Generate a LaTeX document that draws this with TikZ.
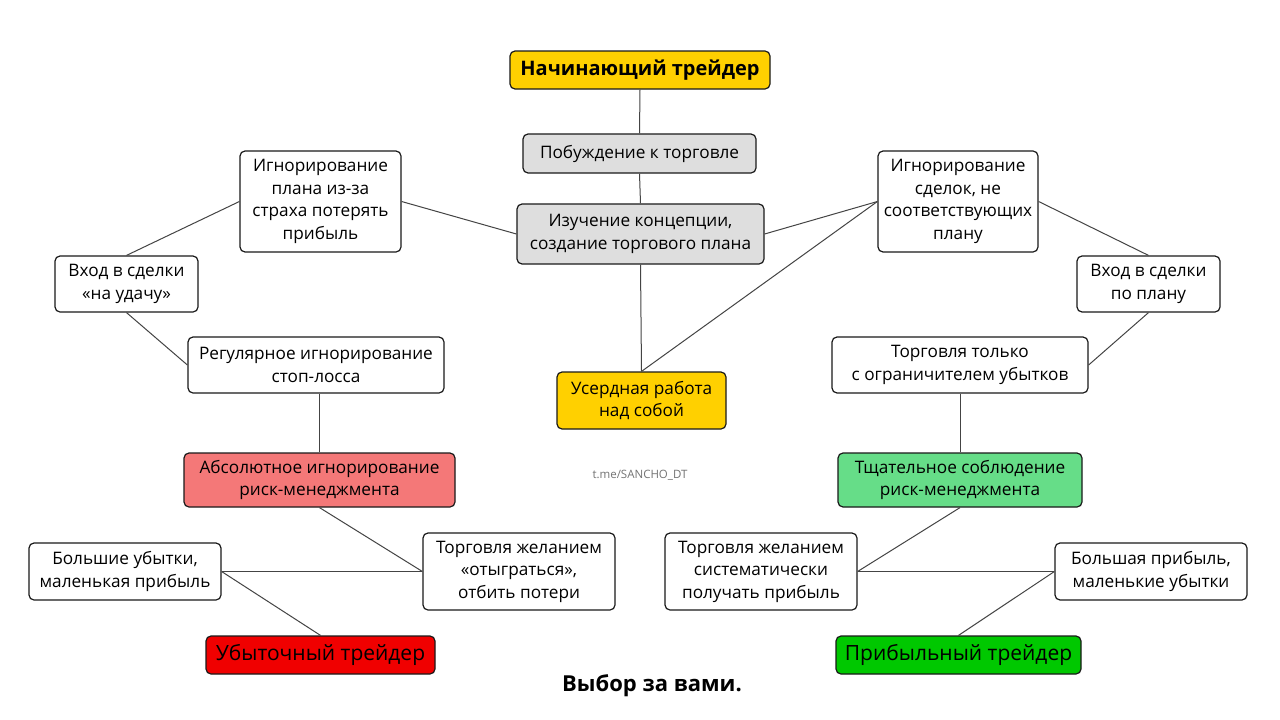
\documentclass[tikz,border=0pt]{standalone}
\usepackage{fontspec}
\setmainfont{Open Sans}
\definecolor{cyel}{HTML}{FFD000}
\definecolor{cgray}{HTML}{DEDEDE}
\definecolor{cpink}{HTML}{F47878}
\definecolor{clgreen}{HTML}{66DD88}
\definecolor{cred}{HTML}{F00000}
\definecolor{cgreen}{HTML}{00C800}
\definecolor{cline}{HTML}{444444}
\definecolor{cborder}{HTML}{1A1A1A}
\begin{document}
\begin{tikzpicture}[x=1pt,y=-1pt,
  box/.style={draw=cborder, line width=1.2pt, rounded corners=5pt, fill=white, align=center,
    inner sep=0pt, font=\fontsize{17.2}{22.5}\selectfont},
  big/.style={box, font=\fontsize{20}{24}\selectfont\bfseries},
  fin/.style={box, font=\fontsize{21}{24}\selectfont},
  link/.style={draw=cline, line width=1pt}]
\useasboundingbox (0,0) rectangle (1280,720);
\fill[white] (0,0) rectangle (1280,720);
% nodes
\node[big, fill=cyel, minimum width=260, minimum height=38] (n1) at (640,70) {Начинающий трейдер};
\node[box, fill=cgray, minimum width=233, minimum height=39] (n2) at (639.5,153.5) {Побуждение к торговле};
\node[box, fill=cgray, minimum width=247, minimum height=60] (n3) at (640.5,234) {Изучение концепции,\\создание торгового плана};
\node[box, minimum width=161, minimum height=101] (n4) at (320.5,201.5) {Игнорирование\\плана из-за\\страха потерять\\прибыль};
\node[box, minimum width=160, minimum height=101] (n5) at (958,201.5) {Игнорирование\\сделок, не\\соответствующих\\плану};
\node[box, minimum width=143, minimum height=56] (n6) at (126.5,284) {Вход в сделки\\«на удачу»};
\node[box, minimum width=143, minimum height=56] (n7) at (1148.5,284) {Вход в сделки\\по плану};
\node[box, minimum width=256, minimum height=56] (n8) at (316,365) {Регулярное игнорирование\\стоп-лосса};
\node[box, minimum width=256, minimum height=56] (n9) at (960,365) {Торговля только\\с ограничителем убытков};
\node[box, fill=cyel, minimum width=169, minimum height=57] (n10) at (641.5,400.5) {Усердная работа\\над собой};
\node[box, fill=cpink, minimum width=271, minimum height=54] (n11) at (319.5,480) {Абсолютное игнорирование\\риск-менеджмента};
\node[box, fill=clgreen, minimum width=244, minimum height=54] (n12) at (960,480) {Тщательное соблюдение\\риск-менеджмента};
\node[box, minimum width=192, minimum height=57] (n13) at (125,571.5) {Большие убытки,\\маленькая прибыль};
\node[box, minimum width=192, minimum height=77] (n14) at (519,571.5) {Торговля желанием\\«отыграться»,\\отбить потери};
\node[box, minimum width=192, minimum height=77] (n15) at (761,571.5) {Торговля желанием\\систематически\\получать прибыль};
\node[box, minimum width=192, minimum height=57] (n16) at (1151,571.5) {Большая прибыль,\\маленькие убытки};
\node[fin, fill=cred, minimum width=229, minimum height=38] (n17) at (320.5,655) {Убыточный трейдер};
\node[fin, fill=cgreen, minimum width=245, minimum height=38] (n18) at (958.5,655) {Прибыльный трейдер};
\node[font=\fontsize{22}{26}\selectfont\bfseries, inner sep=0pt] (n19) at (652,686) {Выбор за вами.};
\node[font=\fontsize{11.5}{14}\selectfont, text=black!55, inner sep=0pt] (n20) at (640,475) {t.me/SANCHO\_DT};
% connectors
\draw[link] (n1.south) -- (n2.north);
\draw[link] (n2.south) -- (n3.north);
\draw[link] (n3.south) -- (n10.north);
\draw[link] (n4.east) -- (n3.west);
\draw[link] (n6.north) -- (n4.west);
\draw[link] (n6.south) -- (n8.west);
\draw[link] (n11.north) -- (n11.north |- n8.south);
\draw[link] (n11.south) -- (n14.west);
\draw[link] (n14.west) -- (n13.east);
\draw[link] (n13.east) -- (n17.north);
\draw[link] (n3.east) -- (n5.west);
\draw[link] (n10.north) -- (n5.west);
\draw[link] (n5.east) -- (n7.north);
\draw[link] (n7.south) -- (n9.east);
\draw[link] (n12.north) -- (n12.north |- n9.south);
\draw[link] (n12.south) -- (n15.east);
\draw[link] (n15.east) -- (n16.west);
\draw[link] (n16.west) -- (n18.north);
\end{tikzpicture}
\end{document}
